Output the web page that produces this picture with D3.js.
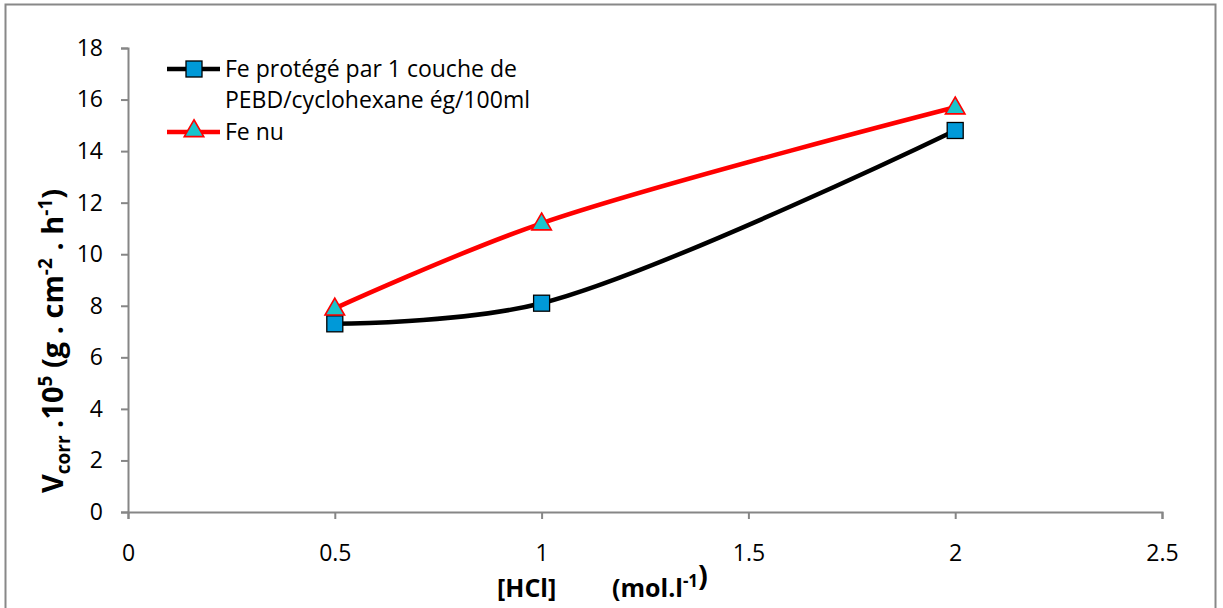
<!DOCTYPE html>
<html>
<head>
<meta charset="utf-8">
<script src="https://cdn.jsdelivr.net/npm/d3@7"></script>
<style>
  body { margin: 0; background: #fff; }
  svg { display: block; font-family: "Open Sans", "Liberation Sans", Arial, sans-serif; }
</style>
</head>
<body>
<svg id="chart" width="1223" height="608"></svg>
<script>
// Corrosion rate versus HCl concentration
const concentrations = [0.5, 1, 2];
const protectedIron = [7.3, 8.1, 14.8];   // Fe protégé par 1 couche de PEBD/cyclohexane
const bareIron = [7.9, 11.2, 15.7];       // Fe nu
const xTicks = [0, 0.5, 1, 1.5, 2, 2.5];
const yTicks = [0, 2, 4, 6, 8, 10, 12, 14, 16, 18];
const legendLabels = [["Fe protégé par 1 couche de", "PEBD/cyclohexane ég/100ml"], ["Fe nu"]];

const svg = d3.select("#chart");
const FONT = "Open Sans, Liberation Sans, Arial, sans-serif";

// outer frame
svg.append("rect").attr("x", 5.5).attr("y", 4.5).attr("width", 1210).attr("height", 640)
  .attr("fill", "none").attr("stroke", "#888").attr("stroke-width", 2);

const x = d3.scaleLinear().domain([0, 2.5]).range([128, 1162]);
const y = d3.scaleLinear().domain([0, 18]).range([512, 48]);

const axisColor = "#868686";
const fs = 23;

// y axis
const gy = svg.append("g").attr("transform", `translate(${x(0)},0)`)
  .call(d3.axisLeft(y).tickValues(yTicks).tickSize(7).tickPadding(18).tickFormat(d3.format("d")));
// x axis
const gx = svg.append("g").attr("transform", `translate(0,${y(0)})`)
  .call(d3.axisBottom(x).tickValues(xTicks).tickSize(7).tickPadding(26).tickFormat(d => String(d)));
[gx, gy].forEach(g => {
  g.select(".domain").attr("stroke", axisColor).attr("stroke-width", 2);
  g.selectAll(".tick line").attr("stroke", axisColor).attr("stroke-width", 2);
  g.selectAll(".tick text").attr("fill", "#000").attr("font-size", fs).attr("font-family", FONT);
});

// series lines (smoothed)
const line = d3.line().x(d => x(d[0])).y(d => y(d[1])).curve(d3.curveCatmullRom.alpha(0.5));
const protPts = concentrations.map((c, i) => [c, protectedIron[i]]);
const barePts = concentrations.map((c, i) => [c, bareIron[i]]);

svg.append("path").attr("d", line(protPts)).attr("fill", "none")
  .attr("stroke", "#000").attr("stroke-width", 4.5);
svg.append("path").attr("d", line(barePts)).attr("fill", "none")
  .attr("stroke", "#ff0000").attr("stroke-width", 4.5);

const sq = 16;
function square(g, cx, cy) {
  g.append("rect").attr("x", cx - sq / 2).attr("y", cy - sq / 2).attr("width", sq).attr("height", sq)
    .attr("fill", "#0099d8").attr("stroke", "#000").attr("stroke-width", 1.3);
}
const triSym = d3.symbol().type(d3.symbolTriangle).size(165);
function triangle(g, cx, cy) {
  g.append("path").attr("d", triSym()).attr("transform", `translate(${cx},${cy})`)
    .attr("fill", "#19c4cc").attr("stroke", "#ff0000").attr("stroke-width", 1.6);
}

const marks = svg.append("g");
protPts.forEach(p => square(marks, x(p[0]), y(p[1])));
barePts.forEach(p => triangle(marks, x(p[0]), y(p[1]) + 1));

// legend
const lg = svg.append("g").attr("font-size", fs);
const legendRows = [69, 132];
lg.append("line").attr("x1", 167).attr("x2", 220).attr("y1", legendRows[0]).attr("y2", legendRows[0])
  .attr("stroke", "#000").attr("stroke-width", 4.5);
square(lg, 194, legendRows[0]);
lg.append("line").attr("x1", 167).attr("x2", 220).attr("y1", legendRows[1]).attr("y2", legendRows[1])
  .attr("stroke", "#ff0000").attr("stroke-width", 4.5);
triangle(lg, 194, legendRows[1] - 1);

lg.append("text").attr("x", 225).attr("y", legendRows[0] + 8).text(legendLabels[0][0]);
lg.append("text").attr("x", 225).attr("y", legendRows[0] + 39).text(legendLabels[0][1]);
lg.append("text").attr("x", 225).attr("y", legendRows[1] + 8).text(legendLabels[1][0]);

// x axis title
const xt = svg.append("text").attr("y", 597).attr("font-size", 25).attr("font-weight", "bold");
xt.append("tspan").attr("x", 497).text("[HCl]");
xt.append("tspan").attr("x", 612).text("(mol.l");
xt.append("tspan").attr("dy", -10).attr("font-size", 17).text("-1");
xt.append("tspan").attr("dy", -1).attr("font-size", 29).text(")");

// y axis title
const yt = svg.append("text").attr("transform", "translate(63,341) rotate(-90)")
  .attr("text-anchor", "middle").attr("font-size", 29).attr("font-weight", "bold");
yt.append("tspan").text("V");
yt.append("tspan").attr("dy", 7).attr("font-size", 19).text("corr");
yt.append("tspan").attr("dy", -7).text(" .10");
yt.append("tspan").attr("dy", -11).attr("font-size", 19).text("5");
yt.append("tspan").attr("dy", 11).text(" (g . cm");
yt.append("tspan").attr("dy", -11).attr("font-size", 19).text("-2");
yt.append("tspan").attr("dy", 11).text(" . h");
yt.append("tspan").attr("dy", -11).attr("font-size", 19).text("-1");
yt.append("tspan").attr("dy", 11).text(")");
</script>
</body>
</html>
